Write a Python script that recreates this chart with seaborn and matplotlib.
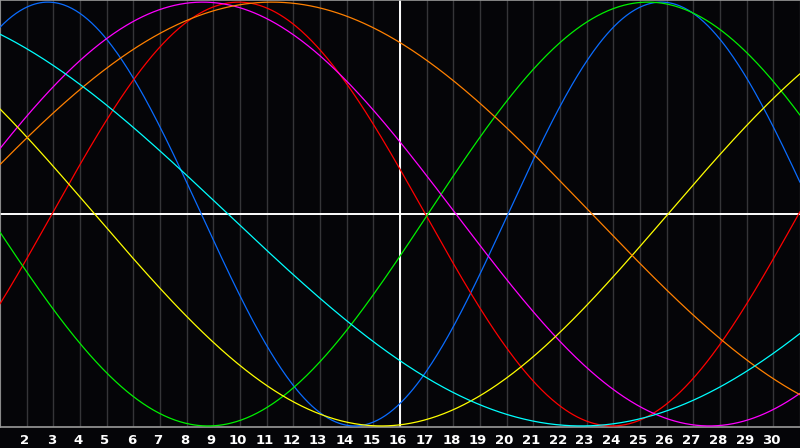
import numpy as np
import pandas as pd
import matplotlib
matplotlib.use("Agg")
import matplotlib.pyplot as plt
import matplotlib.transforms as mtransforms
import seaborn as sns

# Biorhythm cycles: period (days) and day of peak
cycles = ["Physical", "Emotional", "Intellectual", "Intuitive", "Aesthetic", "Awareness", "Spiritual"]
periods = [23, 28, 33, 38, 43, 48, 53]
peak_days = [2.8, 9.95, 25.3, 8.6, -6.2, 11.2, -3.7]
colors = ["#0a6cff", "#ff0000", "#00f000", "#ff00ff", "#ffff00", "#ff8000", "#00ffff"]

first_day = 1
last_day = 31
day_labels = list(range(2, 31))
today = 16

# Build a long table for seaborn
days = np.linspace(first_day, last_day, 601)
rows = []
for name, p, pk in zip(cycles, periods, peak_days):
    vals = np.cos(2 * np.pi * (days - pk) / p)
    rows.append(pd.DataFrame({"day": days, "value": vals, "cycle": name}))
df = pd.concat(rows, ignore_index=True)

sns.set_style("dark", {"axes.facecolor": "#050508", "figure.facecolor": "#050508"})

fig = plt.figure(figsize=(8, 4.48), dpi=100)
ax = fig.add_axes([0, 21 / 448, 1, 427 / 448])

# Day grid lines
for d in range(first_day, last_day + 1):
    ax.axvline(d, color="#353538", linewidth=1.0, zorder=1)

sns.lineplot(
    data=df,
    x="day",
    y="value",
    hue="cycle",
    palette=dict(zip(cycles, colors)),
    linewidth=0.9,
    legend=False,
    ax=ax,
    zorder=3,
)

# Today marker and zero line
ax.axvline(today, color="white", linewidth=1.4, zorder=2)
ax.axhline(0, color="white", linewidth=1.4, zorder=2)

ax.set_xlim(first_day, last_day)
ax.set_ylim(-1.005, 1.01)
ax.set_xticks(day_labels)
ax.set_xticklabels([str(d) for d in day_labels], color="white", fontweight="bold", fontsize=9.5)
ax.set_yticks([])
ax.tick_params(axis="x", length=0, pad=5)
ax.set_xlabel("")
ax.set_ylabel("")
ax.grid(False)

# labels sit a little left of their grid line in the original
shift = mtransforms.ScaledTranslation(-2 / 100, 0, fig.dpi_scale_trans)
for lbl in ax.get_xticklabels():
    lbl.set_transform(lbl.get_transform() + shift)

for side in ["left", "top", "bottom"]:
    ax.spines[side].set_visible(True)
    ax.spines[side].set_color("#9a9a9a")
    ax.spines[side].set_linewidth(1.2)
ax.spines["right"].set_visible(False)

fig.savefig("out.png", dpi=100, facecolor="#050508")
